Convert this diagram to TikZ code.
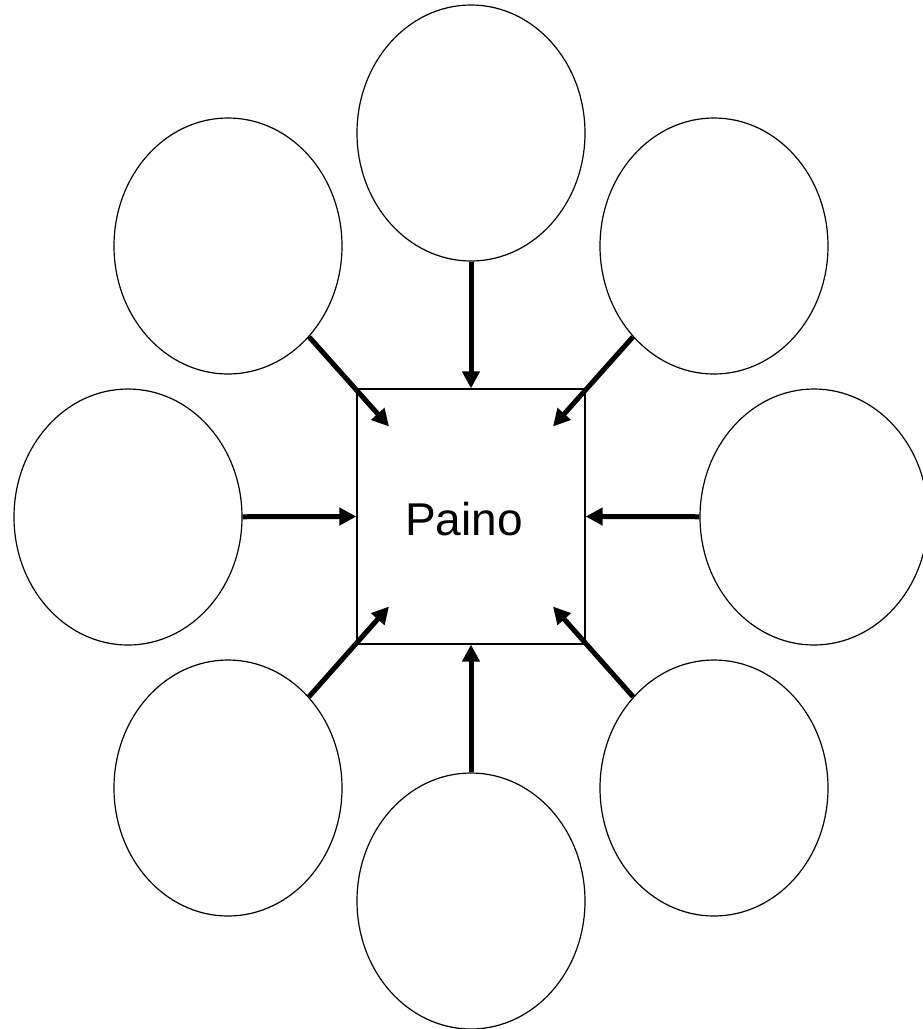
\documentclass[tikz,border=0pt]{standalone}
\usepackage{fontspec}
\setmainfont{Liberation Sans}
\usetikzlibrary{shapes.geometric,arrows.meta}

\begin{document}
\begin{tikzpicture}[x=1pt,y=-1pt,
	bubble/.style={draw,ellipse,line width=1.2pt,minimum width=228pt,minimum height=256pt,inner sep=0pt},
	feed/.style={-{Triangle[length=17pt,width=17pt]},line width=5pt}]
	\useasboundingbox (0,0) rectangle (922,1029);
	% centre square
	\node[draw,line width=1.2pt,minimum width=228pt,minimum height=255pt,inner sep=0pt] (paino) at (471,516.5) {};
	\node[font=\fontsize{46}{50}\selectfont,anchor=base,inner sep=0pt] (lbl) at (464,535) {Paino};
	% ring of ellipses
	\node[bubble] (n) at (471,133) {};
	\node[bubble] (nw) at (228,246) {};
	\node[bubble] (ne) at (714,246) {};
	\node[bubble] (w) at (128,517) {};
	\node[bubble] (e) at (814,517) {};
	\node[bubble] (sw) at (228,788) {};
	\node[bubble] (s) at (471,901) {};
	\node[bubble] (se) at (714,788) {};
	% arrow tips inside the square
	\coordinate (pnw) at ([shift={(-82,-90)}]paino.center);
	\coordinate (pne) at ([shift={(82,-90)}]paino.center);
	\coordinate (psw) at ([shift={(-82,90)}]paino.center);
	\coordinate (pse) at ([shift={(82,90)}]paino.center);
	\draw[feed] (n) -- (paino.north);
	\draw[feed] (s) -- (paino.south);
	\draw[feed] (w) -- (paino.west);
	\draw[feed] (e) -- (paino.east);
	\draw[feed] (nw) -- (pnw);
	\draw[feed] (ne) -- (pne);
	\draw[feed] (sw) -- (psw);
	\draw[feed] (se) -- (pse);
\end{tikzpicture}
\end{document}
